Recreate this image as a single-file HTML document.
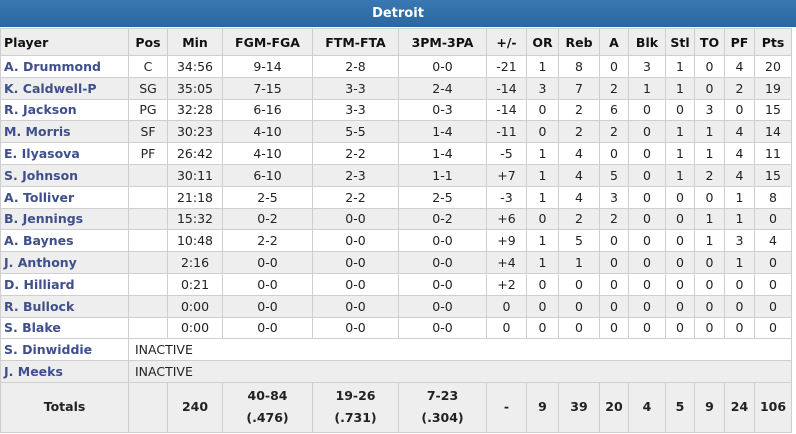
<!DOCTYPE html>
<html><head><style>
body{margin:0;background:#fff;width:796px;height:434px;overflow:hidden;font-family:"DejaVu Sans","Liberation Sans",sans-serif;}
.title{position:absolute;left:0;top:0;width:796px;height:27px;background:linear-gradient(#3a78b2,#2a679f);color:#fff;font-weight:bold;font-size:13px;text-align:center;line-height:28px;}
table{position:absolute;left:0;top:28px;border-collapse:collapse;table-layout:fixed;width:791px;font-size:12.5px;color:#222;}
td,th{border:1px solid #cfcfcf;text-align:center;padding:0;white-space:nowrap;overflow:hidden;}
th{height:26px;background:#eeeeee;font-weight:bold;color:#111;}
th.p{text-align:left;padding-left:3px;}
td{height:20.8px;}
tr.g td{background:#eeeeee;}
td.n{text-align:left;padding-left:3px;font-weight:bold;color:#3f4f8c;}
td.ia{text-align:left;padding-left:6px;}
tr.t td{height:49px;background:#eeeeee;font-weight:bold;line-height:22px;}
</style></head><body>
<div class="title">Detroit</div>
<table>
<colgroup><col style="width:128px"><col style="width:39px"><col style="width:55px"><col style="width:90px"><col style="width:86px"><col style="width:88px"><col style="width:40px"><col style="width:32px"><col style="width:41px"><col style="width:29px"><col style="width:37px"><col style="width:29px"><col style="width:30px"><col style="width:30px"><col style="width:37px"></colgroup>
<tr><th class="p">Player</th><th>Pos</th><th>Min</th><th>FGM-FGA</th><th>FTM-FTA</th><th>3PM-3PA</th><th>+/-</th><th>OR</th><th>Reb</th><th>A</th><th>Blk</th><th>Stl</th><th>TO</th><th>PF</th><th>Pts</th></tr>
<tr><td class="n">A. Drummond</td><td>C</td><td>34:56</td><td>9-14</td><td>2-8</td><td>0-0</td><td>-21</td><td>1</td><td>8</td><td>0</td><td>3</td><td>1</td><td>0</td><td>4</td><td>20</td></tr>
<tr class="g"><td class="n">K. Caldwell-P</td><td>SG</td><td>35:05</td><td>7-15</td><td>3-3</td><td>2-4</td><td>-14</td><td>3</td><td>7</td><td>2</td><td>1</td><td>1</td><td>0</td><td>2</td><td>19</td></tr>
<tr><td class="n">R. Jackson</td><td>PG</td><td>32:28</td><td>6-16</td><td>3-3</td><td>0-3</td><td>-14</td><td>0</td><td>2</td><td>6</td><td>0</td><td>0</td><td>3</td><td>0</td><td>15</td></tr>
<tr class="g"><td class="n">M. Morris</td><td>SF</td><td>30:23</td><td>4-10</td><td>5-5</td><td>1-4</td><td>-11</td><td>0</td><td>2</td><td>2</td><td>0</td><td>1</td><td>1</td><td>4</td><td>14</td></tr>
<tr><td class="n">E. Ilyasova</td><td>PF</td><td>26:42</td><td>4-10</td><td>2-2</td><td>1-4</td><td>-5</td><td>1</td><td>4</td><td>0</td><td>0</td><td>1</td><td>1</td><td>4</td><td>11</td></tr>
<tr class="g"><td class="n">S. Johnson</td><td></td><td>30:11</td><td>6-10</td><td>2-3</td><td>1-1</td><td>+7</td><td>1</td><td>4</td><td>5</td><td>0</td><td>1</td><td>2</td><td>4</td><td>15</td></tr>
<tr><td class="n">A. Tolliver</td><td></td><td>21:18</td><td>2-5</td><td>2-2</td><td>2-5</td><td>-3</td><td>1</td><td>4</td><td>3</td><td>0</td><td>0</td><td>0</td><td>1</td><td>8</td></tr>
<tr class="g"><td class="n">B. Jennings</td><td></td><td>15:32</td><td>0-2</td><td>0-0</td><td>0-2</td><td>+6</td><td>0</td><td>2</td><td>2</td><td>0</td><td>0</td><td>1</td><td>1</td><td>0</td></tr>
<tr><td class="n">A. Baynes</td><td></td><td>10:48</td><td>2-2</td><td>0-0</td><td>0-0</td><td>+9</td><td>1</td><td>5</td><td>0</td><td>0</td><td>0</td><td>1</td><td>3</td><td>4</td></tr>
<tr class="g"><td class="n">J. Anthony</td><td></td><td>2:16</td><td>0-0</td><td>0-0</td><td>0-0</td><td>+4</td><td>1</td><td>1</td><td>0</td><td>0</td><td>0</td><td>0</td><td>1</td><td>0</td></tr>
<tr><td class="n">D. Hilliard</td><td></td><td>0:21</td><td>0-0</td><td>0-0</td><td>0-0</td><td>+2</td><td>0</td><td>0</td><td>0</td><td>0</td><td>0</td><td>0</td><td>0</td><td>0</td></tr>
<tr class="g"><td class="n">R. Bullock</td><td></td><td>0:00</td><td>0-0</td><td>0-0</td><td>0-0</td><td>0</td><td>0</td><td>0</td><td>0</td><td>0</td><td>0</td><td>0</td><td>0</td><td>0</td></tr>
<tr><td class="n">S. Blake</td><td></td><td>0:00</td><td>0-0</td><td>0-0</td><td>0-0</td><td>0</td><td>0</td><td>0</td><td>0</td><td>0</td><td>0</td><td>0</td><td>0</td><td>0</td></tr>
<tr><td class="n">S. Dinwiddie</td><td class="ia" colspan="14">INACTIVE</td></tr>
<tr class="g"><td class="n">J. Meeks</td><td class="ia" colspan="14">INACTIVE</td></tr>
<tr class="t"><td>Totals</td><td></td><td>240</td><td>40-84<br>(.476)</td><td>19-26<br>(.731)</td><td>7-23<br>(.304)</td><td>-</td><td>9</td><td>39</td><td>20</td><td>4</td><td>5</td><td>9</td><td>24</td><td>106</td></tr>
</table>
</body></html>
